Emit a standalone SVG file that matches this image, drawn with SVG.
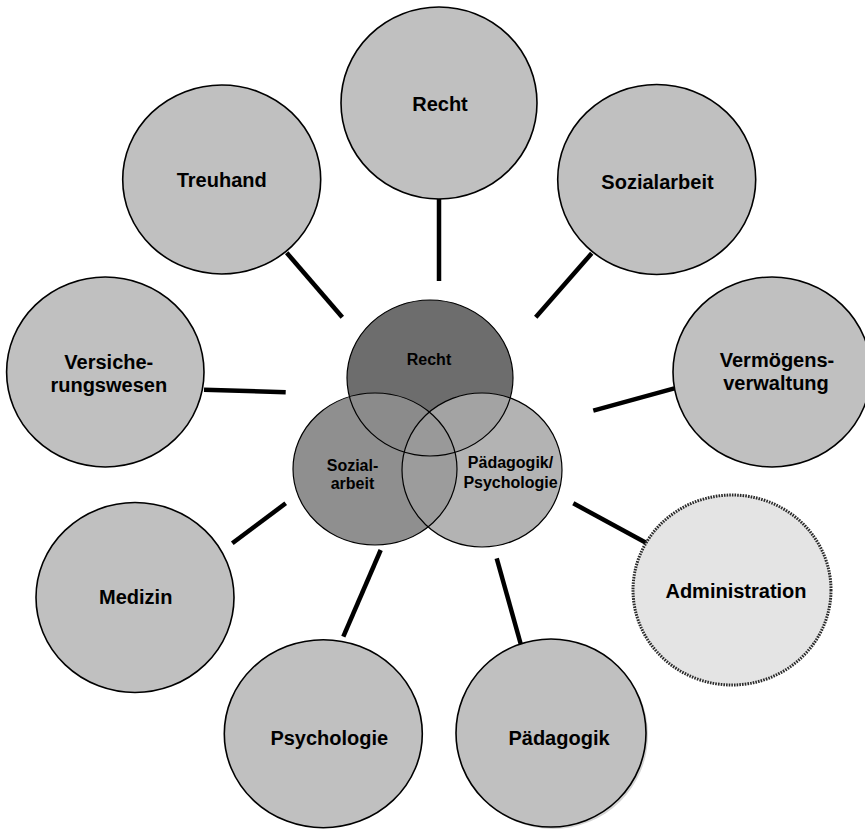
<svg xmlns="http://www.w3.org/2000/svg" width="865" height="829" viewBox="0 0 865 829">
<style>
.outer{fill:#c0c0c0;stroke:#000;stroke-width:1.6}
.admin{fill:#e4e4e4;stroke:#2a2a2a;stroke-width:3;stroke-dasharray:1.6 1.1}
.lbl{font-family:"Liberation Sans",Arial,sans-serif;font-weight:bold;font-size:20px;fill:#000;text-anchor:middle}
.clbl{font-family:"Liberation Sans",Arial,sans-serif;font-weight:bold;font-size:16px;fill:#000;text-anchor:middle}
.conn line{stroke:#000;stroke-width:4.5}
.vstroke{fill:none;stroke:#000;stroke-width:1.2}
</style>
<defs>
<clipPath id="cR"><ellipse cx="430" cy="378" rx="83" ry="78"/></clipPath>
<clipPath id="cS"><ellipse cx="375" cy="469" rx="82" ry="76"/></clipPath>
</defs>
<rect width="865" height="829" fill="#fff"/>
<g id="connectors" class="conn">
<line x1="439" y1="199" x2="439" y2="281"/>
<line x1="286.7" y1="252.7" x2="342.3" y2="317.3"/>
<line x1="591.7" y1="253.3" x2="535.7" y2="317.3"/>
<line x1="204" y1="389.7" x2="285.7" y2="392.3"/>
<line x1="593.3" y1="410.7" x2="674.3" y2="388.3"/>
<line x1="573.3" y1="503.3" x2="646" y2="542.7"/>
<line x1="496.7" y1="558.3" x2="521" y2="645"/>
<line x1="380.7" y1="550" x2="343.3" y2="636.7"/>
<line x1="232.3" y1="543.3" x2="285.7" y2="503.3"/>
</g>
<g id="node-recht">
<ellipse class="outer" cx="439" cy="103" rx="98" ry="96"/>
<text class="lbl" x="440" y="111">Recht</text>
</g>
<g id="node-treuhand">
<ellipse class="outer" cx="221.7" cy="179.5" rx="99" ry="94.5"/>
<text class="lbl" x="221.7" y="187.3">Treuhand</text>
</g>
<g id="node-sozialarbeit">
<ellipse class="outer" cx="656.7" cy="179.5" rx="99" ry="95"/>
<text class="lbl" x="657.5" y="189.3">Sozialarbeit</text>
</g>
<g id="node-versicherungswesen">
<ellipse class="outer" cx="105.3" cy="372" rx="98.7" ry="95"/>
<text class="lbl" x="108.8" y="369.3">Versiche-</text>
<text class="lbl" x="108.8" y="392.3">rungswesen</text>
</g>
<g id="node-vermoegensverwaltung">
<ellipse class="outer" cx="772" cy="372" rx="99" ry="95"/>
<text class="lbl" x="777" y="366.7">Vermögens-</text>
<text class="lbl" x="776" y="390">verwaltung</text>
</g>
<g id="node-medizin">
<ellipse class="outer" cx="135" cy="597.5" rx="99" ry="95"/>
<text class="lbl" x="135.7" y="604">Medizin</text>
</g>
<g id="node-psychologie">
<ellipse class="outer" cx="323.3" cy="733.7" rx="99" ry="94"/>
<text class="lbl" x="329.3" y="745">Psychologie</text>
</g>
<g id="node-paedagogik">
<ellipse cx="553" cy="735" rx="95" ry="94" fill="#d4d4d4"/>
<ellipse class="outer" cx="551" cy="733" rx="95" ry="94"/>
<text class="lbl" x="559" y="745">Pädagogik</text>
</g>
<g id="node-administration">
<ellipse class="admin" cx="732" cy="590" rx="99" ry="95"/>
<text class="lbl" x="736" y="598.3">Administration</text>
</g>
<g id="node-venn">
<ellipse cx="430" cy="378" rx="83" ry="78" fill="#6d6d6d"/>
<ellipse cx="375" cy="469" rx="82" ry="76" fill="#8f8f8f"/>
<ellipse cx="482" cy="470" rx="80" ry="77" fill="#b3b3b3"/>
<ellipse cx="375" cy="469" rx="82" ry="76" fill="#8b8b8b" clip-path="url(#cR)"/>
<ellipse cx="482" cy="470" rx="80" ry="77" fill="#a3a3a3" clip-path="url(#cR)"/>
<ellipse cx="482" cy="470" rx="80" ry="77" fill="#9c9c9c" clip-path="url(#cS)"/>
<g clip-path="url(#cR)"><ellipse cx="482" cy="470" rx="80" ry="77" fill="#999999" clip-path="url(#cS)"/></g>
<ellipse class="vstroke" cx="430" cy="378" rx="83" ry="78"/>
<ellipse class="vstroke" cx="375" cy="469" rx="82" ry="76"/>
<ellipse class="vstroke" cx="482" cy="470" rx="80" ry="77"/>
<text class="clbl" x="429" y="365">Recht</text>
<text class="clbl" x="352.5" y="470.7">Sozial-</text>
<text class="clbl" x="352.5" y="489">arbeit</text>
<text class="clbl" x="510.5" y="468">Pädagogik/</text>
<text class="clbl" x="510.5" y="488">Psychologie</text>
</g>
</svg>
